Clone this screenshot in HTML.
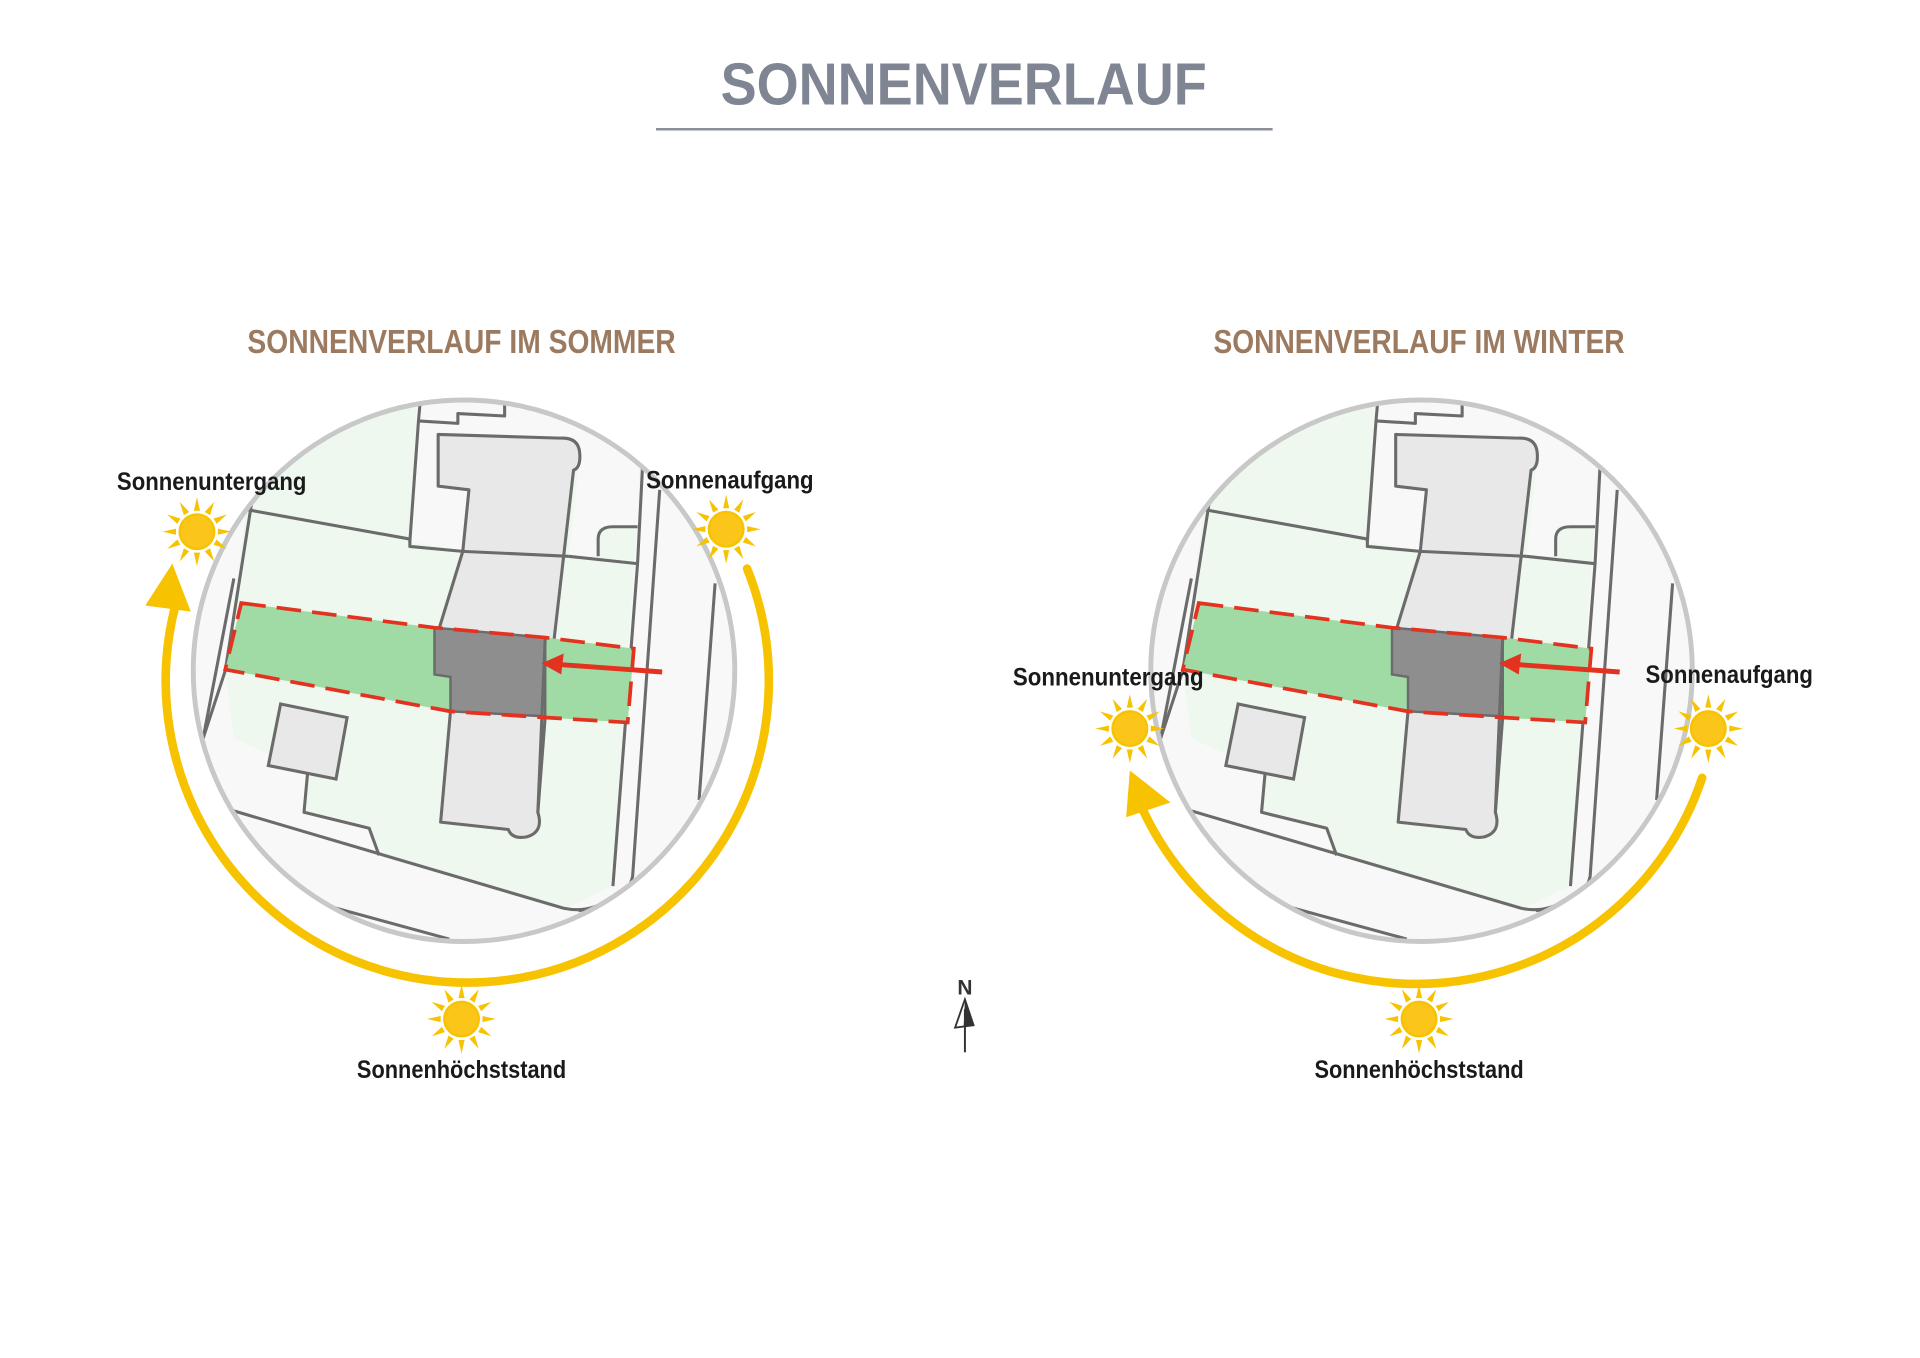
<!DOCTYPE html>
<html><head><meta charset="utf-8"><style>
html,body{margin:0;padding:0;background:#fff;width:1920px;height:1358px;overflow:hidden}
svg{display:block}
text{font-family:"Liberation Sans",sans-serif}
</style></head><body>
<svg width="1920" height="1358" viewBox="0 0 1560 1103.4" xmlns="http://www.w3.org/2000/svg">
<defs>
<clipPath id="cc"><circle cx="377" cy="545" r="219"/></clipPath>
<g id="sun">
  <g fill="#f7c300">
    <polygon points="-2.5,-17 2.5,-17 0,-28"/>
    <polygon points="-2.5,-17 2.5,-17 0,-28" transform="rotate(30)"/>
    <polygon points="-2.5,-17 2.5,-17 0,-28" transform="rotate(60)"/>
    <polygon points="-2.5,-17 2.5,-17 0,-28" transform="rotate(90)"/>
    <polygon points="-2.5,-17 2.5,-17 0,-28" transform="rotate(120)"/>
    <polygon points="-2.5,-17 2.5,-17 0,-28" transform="rotate(150)"/>
    <polygon points="-2.5,-17 2.5,-17 0,-28" transform="rotate(180)"/>
    <polygon points="-2.5,-17 2.5,-17 0,-28" transform="rotate(210)"/>
    <polygon points="-2.5,-17 2.5,-17 0,-28" transform="rotate(240)"/>
    <polygon points="-2.5,-17 2.5,-17 0,-28" transform="rotate(270)"/>
    <polygon points="-2.5,-17 2.5,-17 0,-28" transform="rotate(300)"/>
    <polygon points="-2.5,-17 2.5,-17 0,-28" transform="rotate(330)"/>
  </g>
  <circle r="14" fill="#fcc51a" stroke="#f7c300" stroke-width="2"/>
</g>
<g id="map">
  <g clip-path="url(#cc)">
    <rect x="140" y="300" width="480" height="500" fill="#eef8ee"/>
    <polygon fill="#f8f8f8" points="100,405 200,414 183,545 190,600 250,627 247,660 300,673 308,695 460,738 497,720 520,390 530,300 650,300 650,820 100,820"/>
    <polygon fill="#f8f8f8" points="340,300 333,440 376,448 381,398 356,395 356,353 460,356 470,380 462,452 486,452 486,428 518,427 522,300"/>
    <g fill="none" stroke="#6b6b6b" stroke-width="2.5" stroke-linejoin="round">
      <polyline points="200,414 333,438 333,444 376,448"/>
      <polyline points="342,320 340,342 333,440"/>
      <polyline points="340,342 372,344 372,336 410,338 410,300"/>
      <polyline points="462,452 518,458"/>
      <path d="M486,452 L486,438 Q486,428 498,428 L518,428"/>
      <polyline points="522,380 518,458 498,720"/>
      <path d="M536,398 L514,712 Q510,730 490,736 L470,740"/>
      <polyline points="581,474 568,650"/>
      <polyline points="205,405 183,545 165,600"/>
      <polyline points="190,470 165,600"/>
      <path d="M160,650 L458,738 Q478,742 492,732"/>
      <polyline points="250,627 247,660 300,673 308,695"/>
      <polyline points="255,733 365,763"/>
    </g>
    <path d="M356,353 L455,356 Q470,355 471,368 Q472,380 466,382 L443,582 L437,660 Q442,676 428,680 Q416,682 413,674 L358,668 L366,578 L353,548 L357,510 L376,448 L381,398 L356,395 Z" fill="#e8e8e8" stroke="#6b6b6b" stroke-width="2.5" stroke-linejoin="round"/>
    <polyline points="376,448 462,452" fill="none" stroke="#6b6b6b" stroke-width="2.5"/>
    <polygon points="228,572 282,583 273,633 218,622" fill="#e8e8e8" stroke="#6b6b6b" stroke-width="2.5"/>
    <polygon points="196,490 353,510 443,518 515,527 510,587 443,583 366,578 183,544" fill="#a0dba6"/>
    <polygon points="353,510 443,518 443,582 366,578 366,550 353,548" fill="#8e8e8e" stroke="#6b6b6b" stroke-width="2"/>
    <line x1="443" y1="518" x2="437" y2="660" stroke="#6b6b6b" stroke-width="2.5"/>
    <polygon points="196,490 353,510 443,518 515,527 510,587 443,583 366,578 183,544" fill="none" stroke="#e3321f" stroke-width="3" stroke-dasharray="20,9"/>
    <line x1="538" y1="546" x2="455" y2="540" stroke="#e3321f" stroke-width="4"/>
    <polygon points="440,539 458,531 456,548" fill="#e3321f"/>
  </g>
  <circle cx="377" cy="545" r="220" fill="none" stroke="#c8c8c8" stroke-width="4"/>
</g>
</defs>

<text x="783" y="85" text-anchor="middle" font-size="48" font-weight="bold" fill="#7f8593" textLength="395" lengthAdjust="spacingAndGlyphs">SONNENVERLAUF</text>
<line x1="533" y1="105" x2="1034" y2="105" stroke="#8a8f99" stroke-width="2"/>

<text x="375" y="287" text-anchor="middle" font-size="27" font-weight="bold" fill="#9c7a60" textLength="348" lengthAdjust="spacingAndGlyphs">SONNENVERLAUF IM SOMMER</text>
<text x="1153" y="287" text-anchor="middle" font-size="27" font-weight="bold" fill="#9c7a60" textLength="334" lengthAdjust="spacingAndGlyphs">SONNENVERLAUF IM WINTER</text>

<use href="#map"/>
<use href="#map" transform="translate(778,0)"/>

<path d="M607,462 A245,245 0 1 1 143,490" fill="none" stroke="#f7c300" stroke-width="7" stroke-linecap="round"/>
<polygon points="140,458 118,492 155,497" fill="#f7c300"/>
<path d="M1383,632 A245,245 0 0 1 925,650" fill="none" stroke="#f7c300" stroke-width="7" stroke-linecap="round"/>
<polygon points="918,626 915,664 951,652" fill="#f7c300"/>

<use href="#sun" x="160" y="432"/>
<use href="#sun" x="590" y="430"/>
<use href="#sun" x="375" y="828"/>
<use href="#sun" x="918" y="592"/>
<use href="#sun" x="1388" y="592"/>
<use href="#sun" x="1153" y="828"/>

<g font-size="20" font-weight="bold" fill="#1a1a1a">
<text x="95" y="398" textLength="154" lengthAdjust="spacingAndGlyphs">Sonnenuntergang</text>
<text x="525" y="397" textLength="136" lengthAdjust="spacingAndGlyphs">Sonnenaufgang</text>
<text x="290" y="876" textLength="170" lengthAdjust="spacingAndGlyphs">Sonnenhöchststand</text>
<text x="823" y="557" textLength="155" lengthAdjust="spacingAndGlyphs">Sonnenuntergang</text>
<text x="1337" y="555" textLength="136" lengthAdjust="spacingAndGlyphs">Sonnenaufgang</text>
<text x="1068" y="876" textLength="170" lengthAdjust="spacingAndGlyphs">Sonnenhöchststand</text>
</g>

<text x="784" y="808" text-anchor="middle" font-size="17" font-weight="bold" fill="#333">N</text>
<polygon points="784,812 776,835 791,833" fill="#fff" stroke="#333" stroke-width="1.5"/>
<polygon points="784,812 791,833 783,834" fill="#333"/>
<line x1="784" y1="820" x2="784" y2="855" stroke="#333" stroke-width="1.6"/>
</svg>
</body></html>
